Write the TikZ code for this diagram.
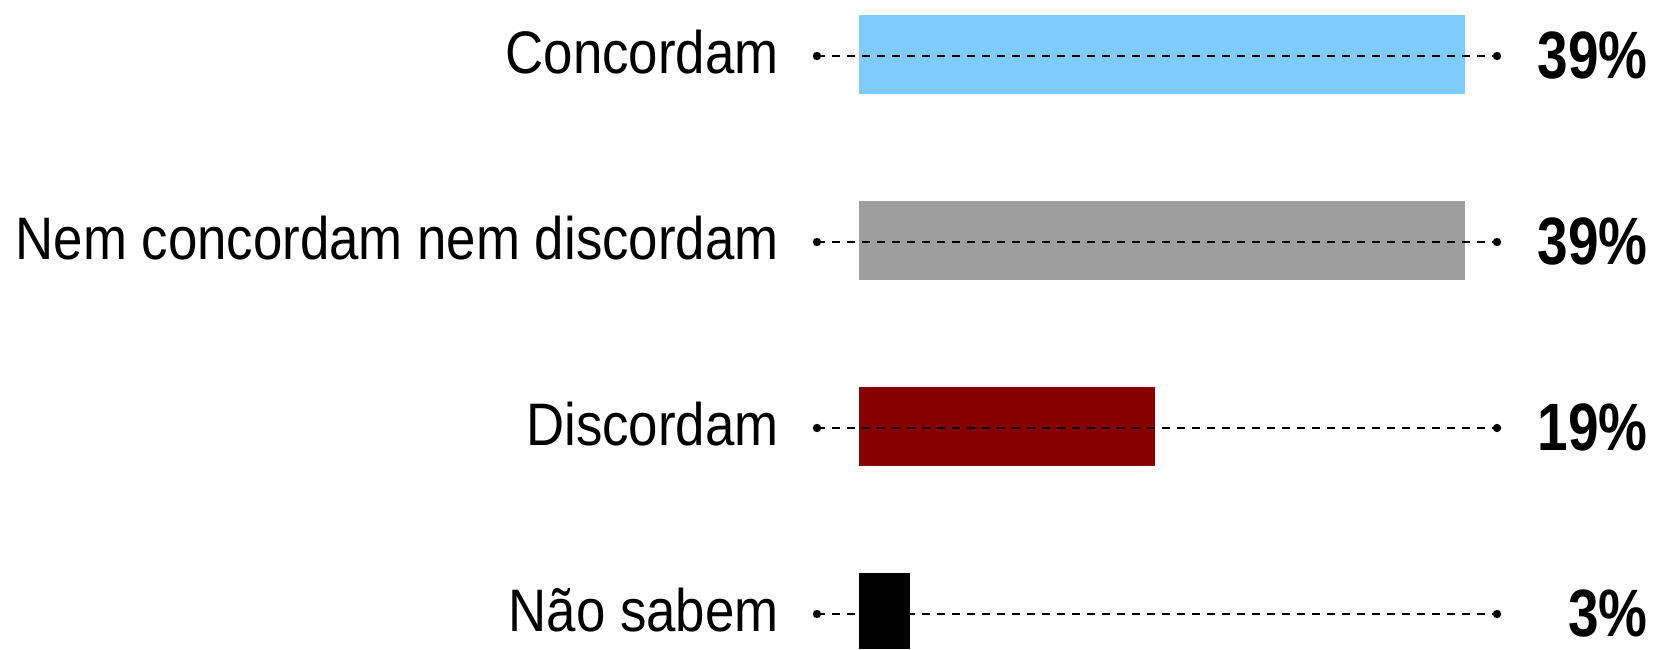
\documentclass[tikz,border=0pt]{standalone}
\usepackage{fontspec}
\setmainfont{Liberation Sans}[FakeStretch=0.88]
\newfontfamily\pctfont{Liberation Sans}[FakeStretch=0.82]
\definecolor{agreeblue}{HTML}{7ECBFF}
\definecolor{neutralgray}{HTML}{9E9E9E}
\definecolor{disagreered}{HTML}{850000}
\begin{document}
\begin{tikzpicture}[x=0.5pt,y=-0.5pt,
  guide/.style={black, line width=1.1pt, dash pattern=on 3.75pt off 3.75pt},
  tip/.style={circle, fill=black, inner sep=0pt, minimum size=4.2pt},
  catlabel/.style={anchor=base east, inner sep=0pt, font=\fontsize{30}{36}\selectfont},
  pctlabel/.style={anchor=base east, inner sep=0pt, font=\pctfont\bfseries\fontsize{33.5}{40}\selectfont}]
  \useasboundingbox (0,0) rectangle (1674,649);
  % one row per answer: bar, dashed guide, label, share
  \foreach \i/\lab/\val/\xend/\col in {0/Concordam/39/1465/agreeblue,
      1/Nem concordam nem discordam/39/1465/neutralgray,
      2/Discordam/19/1155/disagreered,
      3/Não sabem/3/910/black} {
    \pgfmathsetmacro{\ytop}{15+186*\i}
    \pgfmathsetmacro{\ybot}{min(\ytop+79,649)}
    \fill[\col] (859,\ytop) rectangle (\xend,\ybot);
    \coordinate (l\i) at (817,\ytop+41);
    \coordinate (r\i) at (1497,\ytop+41);
    \draw[guide] (l\i) -- (r\i);
    \node[tip] at (l\i) {};
    \node[tip] at (r\i) {};
    \node[catlabel] (lab\i) at (779,\ytop+58) {\lab};
    \node[pctlabel] (pct\i) at (1648,\ytop+63) {\val\%};
  }
\end{tikzpicture}
\end{document}
